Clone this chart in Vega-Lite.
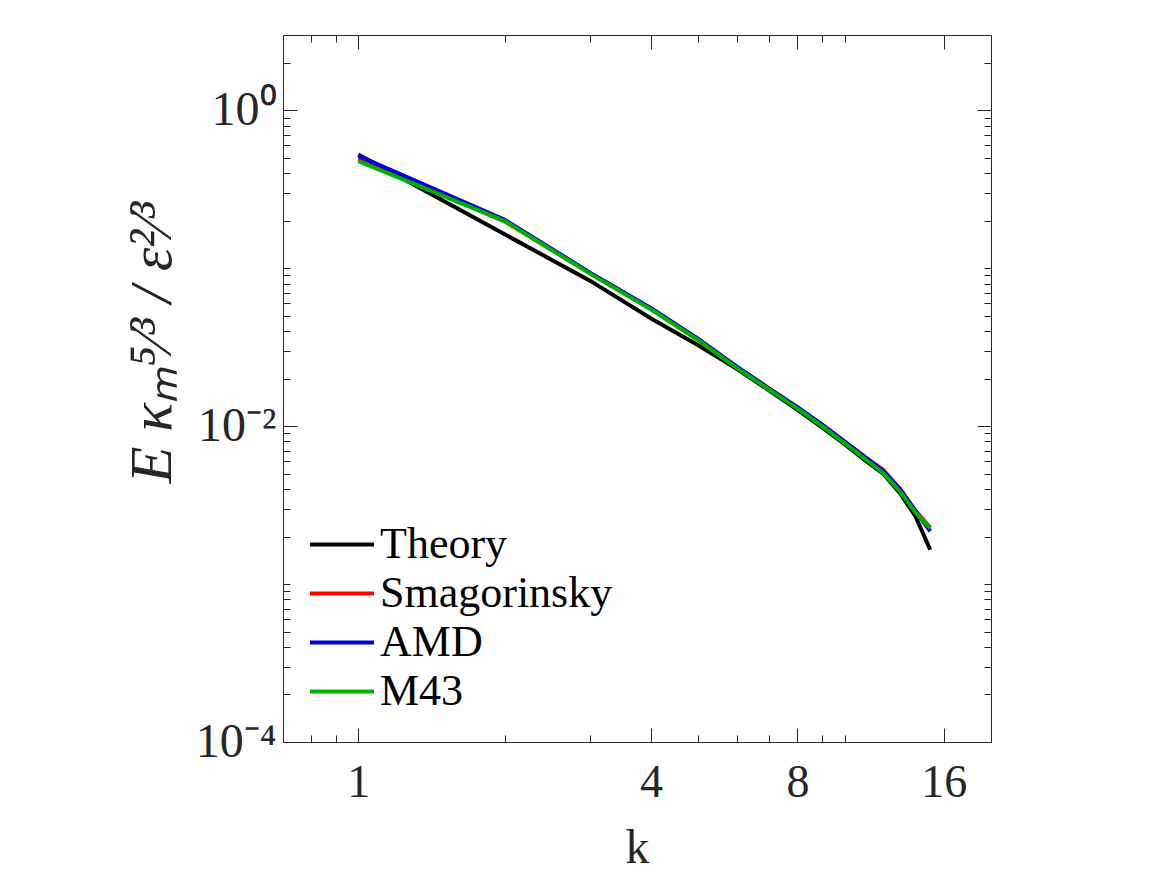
{
  "$schema": "https://vega.github.io/schema/vega-lite/v6.json",
  "width": 708,
  "height": 707,
  "autosize": "none",
  "padding": {"left": 283, "top": 35, "right": 176, "bottom": 133},
  "background": "white",
  "config": {
    "view": {"stroke": null},
    "font": "Liberation Serif",
    "axis": {"domainColor": "#262626", "tickColor": "#262626", "labelColor": "#262626", "titleColor": "#262626", "labelFont": "Liberation Serif", "titleFont": "Liberation Serif", "labelFontSize": 46, "titleFontSize": 46, "titleFontWeight": "normal", "grid": false}
  },
  "data": {"values": [
    {"k": 1, "E": 0.526, "model": "Theory"},
    {"k": 2, "E": 0.164, "model": "Theory"},
    {"k": 3, "E": 0.0832, "model": "Theory"},
    {"k": 4, "E": 0.0481, "model": "Theory"},
    {"k": 5, "E": 0.0325, "model": "Theory"},
    {"k": 6, "E": 0.0231, "model": "Theory"},
    {"k": 7, "E": 0.0168, "model": "Theory"},
    {"k": 8, "E": 0.0127, "model": "Theory"},
    {"k": 9, "E": 0.0098, "model": "Theory"},
    {"k": 10, "E": 0.0077, "model": "Theory"},
    {"k": 11, "E": 0.0061, "model": "Theory"},
    {"k": 12, "E": 0.0050, "model": "Theory"},
    {"k": 13, "E": 0.00377, "model": "Theory"},
    {"k": 14, "E": 0.00267, "model": "Theory"},
    {"k": 15, "E": 0.00165, "model": "Theory"},
    {"k": 1, "E": 0.495, "model": "Smagorinsky"},
    {"k": 2, "E": 0.198, "model": "Smagorinsky"},
    {"k": 3, "E": 0.093, "model": "Smagorinsky"},
    {"k": 4, "E": 0.0555, "model": "Smagorinsky"},
    {"k": 5, "E": 0.0355, "model": "Smagorinsky"},
    {"k": 6, "E": 0.0237, "model": "Smagorinsky"},
    {"k": 7, "E": 0.0173, "model": "Smagorinsky"},
    {"k": 8, "E": 0.0131, "model": "Smagorinsky"},
    {"k": 9, "E": 0.0102, "model": "Smagorinsky"},
    {"k": 10, "E": 0.0080, "model": "Smagorinsky"},
    {"k": 11, "E": 0.0064, "model": "Smagorinsky"},
    {"k": 12, "E": 0.0053, "model": "Smagorinsky"},
    {"k": 13, "E": 0.0040, "model": "Smagorinsky"},
    {"k": 14, "E": 0.0029, "model": "Smagorinsky"},
    {"k": 15, "E": 0.00228, "model": "Smagorinsky"},
    {"k": 1, "E": 0.515, "model": "AMD"},
    {"k": 2, "E": 0.203, "model": "AMD"},
    {"k": 3, "E": 0.0935, "model": "AMD"},
    {"k": 4, "E": 0.0558, "model": "AMD"},
    {"k": 5, "E": 0.0357, "model": "AMD"},
    {"k": 6, "E": 0.0238, "model": "AMD"},
    {"k": 7, "E": 0.0173, "model": "AMD"},
    {"k": 8, "E": 0.0132, "model": "AMD"},
    {"k": 9, "E": 0.0102, "model": "AMD"},
    {"k": 10, "E": 0.0080, "model": "AMD"},
    {"k": 11, "E": 0.0064, "model": "AMD"},
    {"k": 12, "E": 0.0052, "model": "AMD"},
    {"k": 13, "E": 0.0040, "model": "AMD"},
    {"k": 14, "E": 0.0029, "model": "AMD"},
    {"k": 15, "E": 0.00216, "model": "AMD"},
    {"k": 1, "E": 0.477, "model": "M43"},
    {"k": 2, "E": 0.199, "model": "M43"},
    {"k": 3, "E": 0.0922, "model": "M43"},
    {"k": 4, "E": 0.0548, "model": "M43"},
    {"k": 5, "E": 0.035, "model": "M43"},
    {"k": 6, "E": 0.0234, "model": "M43"},
    {"k": 7, "E": 0.0170, "model": "M43"},
    {"k": 8, "E": 0.0129, "model": "M43"},
    {"k": 9, "E": 0.00997, "model": "M43"},
    {"k": 10, "E": 0.00782, "model": "M43"},
    {"k": 11, "E": 0.00622, "model": "M43"},
    {"k": 12, "E": 0.00505, "model": "M43"},
    {"k": 13, "E": 0.00386, "model": "M43"},
    {"k": 14, "E": 0.00282, "model": "M43"},
    {"k": 15, "E": 0.00226, "model": "M43"}
  ]},
  "resolve": {"axis": {"x": "independent", "y": "independent"}},
  "layer": [
    {
      "mark": {"type": "line", "strokeWidth": 4, "clip": true},
      "encoding": {
        "x": {"field": "k", "type": "quantitative",
          "scale": {"type": "log", "base": 2, "domain": [0.7, 20], "nice": false},
          "axis": {"orient": "bottom", "title": "k", "values": [0.8, 0.9, 1, 2, 3, 4, 5, 6, 7, 8, 9, 10, 16],
            "labelExpr": "datum.value == 1 || datum.value == 4 || datum.value == 8 || datum.value == 16 ? datum.label : ''",
            "tickSize": {"condition": {"test": "datum.value == 1 || datum.value == 4 || datum.value == 8 || datum.value == 16", "value": -14}, "value": -7},
            "labelPadding": 32, "titlePadding": 12, "titleFontSize": 48, "labelFlush": false, "labelOverlap": false}},
        "y": {"field": "E", "type": "quantitative",
          "scale": {"type": "log", "domain": [0.0001, 3], "nice": false},
          "axis": {"orient": "left", "title": "E κₘ⁵⁄³ / ε²⁄³", "titleFontStyle": "italic", "titleFontSize": 60, "titleY": 307,
            "values": [0.0001, 0.0002, 0.0003, 0.0004, 0.0005, 0.0006, 0.0007, 0.0008, 0.0009, 0.001, 0.002, 0.003, 0.004, 0.005, 0.006, 0.007, 0.008, 0.009, 0.01, 0.02, 0.03, 0.04, 0.05, 0.06, 0.07, 0.08, 0.09, 0.1, 0.2, 0.3, 0.4, 0.5, 0.6, 0.7, 0.8, 0.9, 1, 2],
            "labelExpr": "datum.value == 1 ? '10⁰' : datum.value == 0.01 ? '10⁻²' : datum.value == 0.0001 ? '10⁻⁴' : ''",
            "tickSize": {"condition": {"test": "datum.value == 1 || datum.value == 0.01 || datum.value == 0.0001", "value": -14}, "value": -7},
            "labelPadding": 21, "titlePadding": 12, "labelFontSize": 48, "labelFlush": false, "labelOverlap": false}},
        "color": {"field": "model", "type": "nominal",
          "scale": {"domain": ["Theory", "Smagorinsky", "AMD", "M43"], "range": ["#000000", "#ff0000", "#0000dd", "#00b000"]},
          "legend": {"title": null, "orient": "none", "legendX": 25, "legendY": 485, "symbolType": "stroke", "symbolSize": 4096, "symbolStrokeWidth": 4, "labelFont": "Liberation Serif", "labelFontSize": 44, "labelColor": "#000000", "labelOffset": 4, "labelLimit": 500, "clipHeight": 49, "rowPadding": 0, "padding": 0, "symbolOpacity": 1}},
        "order": {"field": "model"}
      }
    },
    {
      "mark": {"type": "line", "strokeOpacity": 0},
      "encoding": {
        "x": {"field": "k", "type": "quantitative",
          "axis": {"orient": "top", "title": null, "labels": false, "values": [0.8, 0.9, 1, 2, 3, 4, 5, 6, 7, 8, 9, 10, 16],
            "tickSize": {"condition": {"test": "datum.value == 1 || datum.value == 4 || datum.value == 8 || datum.value == 16", "value": -14}, "value": -7}}},
        "y": {"field": "E", "type": "quantitative",
          "axis": {"orient": "right", "title": null, "labels": false,
            "values": [0.0001, 0.0002, 0.0003, 0.0004, 0.0005, 0.0006, 0.0007, 0.0008, 0.0009, 0.001, 0.002, 0.003, 0.004, 0.005, 0.006, 0.007, 0.008, 0.009, 0.01, 0.02, 0.03, 0.04, 0.05, 0.06, 0.07, 0.08, 0.09, 0.1, 0.2, 0.3, 0.4, 0.5, 0.6, 0.7, 0.8, 0.9, 1, 2],
            "tickSize": {"condition": {"test": "datum.value == 1 || datum.value == 0.01 || datum.value == 0.0001", "value": -14}, "value": -7}}},
        "detail": {"field": "model"}
      }
    }
  ]
}
